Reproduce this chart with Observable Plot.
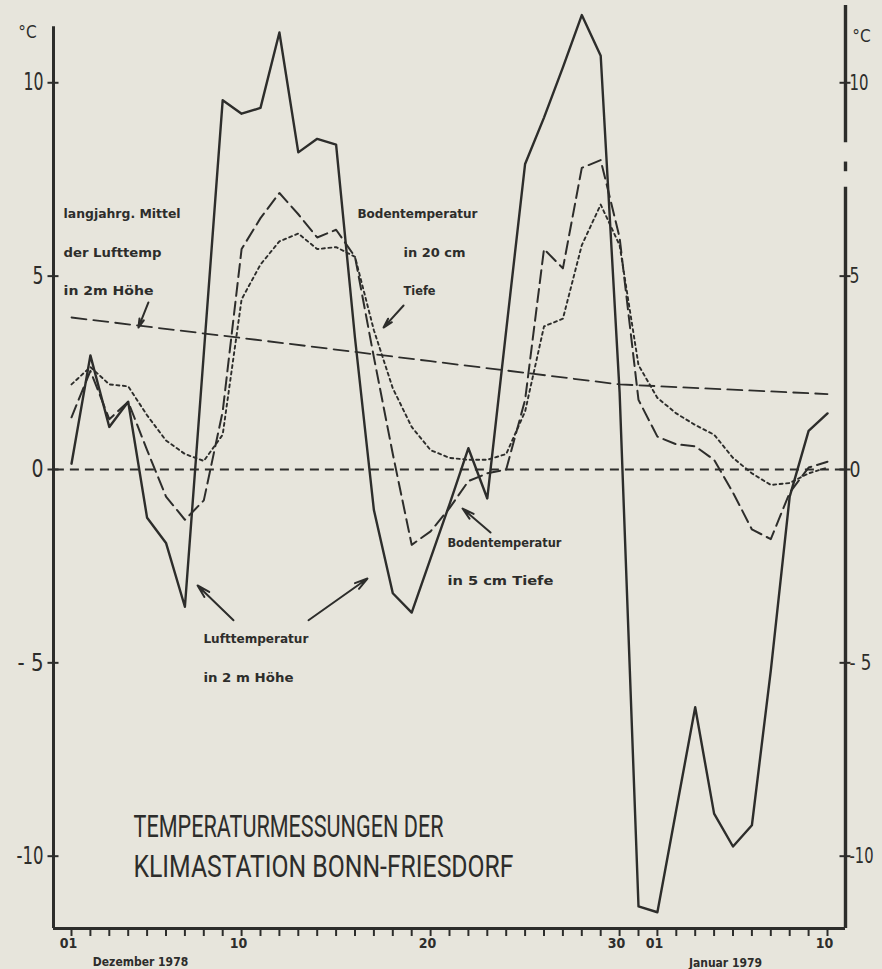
<!DOCTYPE html>
<html><head><meta charset="utf-8">
<script src="https://cdn.jsdelivr.net/npm/d3@7"></script>
<script src="https://cdn.jsdelivr.net/npm/@observablehq/plot@0.6"></script>
<style>
html,body{margin:0;padding:0;background:#e7e5dc;}
#chart svg{display:block;}
</style></head><body><div id="chart"></div>
<script>
// Day index: 1 = 01 Dec 1978 ... 31 = 31 Dec 1978, 32 = 01 Jan 1979 ... 41 = 10 Jan 1979
const days = d3.range(1, 42);

// Lufttemperatur in 2 m Höhe (°C)
const airTemp = [
  0.15, 2.95, 1.1, 1.75, -1.25, -1.9, -3.55, 3.0, 9.55, 9.2,
  9.35, 11.3, 8.2, 8.55, 8.4, 3.4, -1.05, -3.2, -3.7, -2.3,
  -0.9, 0.55, -0.75, 3.6, 7.9, 9.1, 10.4, 11.75, 10.7, 2.0,
  -11.3, -11.45, -8.8, -6.15, -8.9, -9.75, -9.2, -5.2, -0.7, 1.0, 1.45
];
// Bodentemperatur in 5 cm Tiefe (°C)
const soil5cm = [
  1.35, 2.55, 1.3, 1.75, 0.5, -0.7, -1.3, -0.8, 1.5, 5.7,
  6.5, 7.15, 6.6, 6.0, 6.2, 5.5, 2.9, 0.4, -1.95, -1.6,
  -1.0, -0.3, -0.1, 0.0, 1.8, 5.7, 5.2, 7.8, 8.0, 6.0,
  1.8, 0.85, 0.65, 0.6, 0.25, -0.6, -1.55, -1.8, -0.6, 0.05, 0.2
];
// Bodentemperatur in 20 cm Tiefe (°C)
const soil20cm = [
  2.2, 2.65, 2.2, 2.15, 1.4, 0.75, 0.4, 0.22, 0.9, 4.4,
  5.3, 5.9, 6.1, 5.7, 5.75, 5.5, 3.6, 2.1, 1.1, 0.5,
  0.3, 0.25, 0.25, 0.4, 1.5, 3.7, 3.9, 5.8, 6.85, 5.8,
  2.7, 1.85, 1.45, 1.15, 0.9, 0.3, -0.1, -0.4, -0.35, -0.1, 0.05
];
// langjähriges Mittel der Lufttemperatur in 2 m Höhe (°C)
const meanDays = [1, 10, 20, 30, 41];
const meanTemp = [3.93, 3.4, 2.8, 2.2, 1.95];

// Axis ticks and labels
const xTickDays = [1, 10, 20, 30, 32, 41];
const xTickLabels = ["01", "10", "20", "30", "01", "10"];
const yTicks = [10, 5, 0, -5, -10];
const yTickLabels = ["10", "5", "0", "- 5", "-10"];

// Annotations (data coordinates: day, °C)
const notes = [
  {text: "langjahrg. Mittel", day: 0.58, v: 6.62},
  {text: "der Lufttemp", day: 0.58, v: 5.61},
  {text: "in 2m Höhe", day: 0.58, v: 4.63},
  {text: "Bodentemperatur", day: 16.13, v: 6.62},
  {text: "in 20 cm", day: 18.57, v: 5.61},
  {text: "Tiefe", day: 18.57, v: 4.63},
  {text: "Bodentemperatur ", day: 20.89, v: -1.89},
  {text: "in 5 cm Tiefe", day: 20.89, v: -2.87},
  {text: "Lufttemperatur", day: 7.98, v: -4.37},
  {text: "in 2 m Höhe", day: 7.98, v: -5.38}
];
const noteWidths = {
  "langjahrg. Mittel": 117, "der Lufttemp": 98, "in 2m Höhe": 90,
  "Bodentemperatur": 120, "in 20 cm": 62, "Tiefe": 32,
  "Bodentemperatur ": 118, "in 5 cm Tiefe": 106,
  "Lufttemperatur": 105, "in 2 m Höhe": 90
};
const pointers = [
  {x1: 5.07, y1: 4.32, x2: 4.54, y2: 3.67},
  {x1: 18.57, y1: 4.24, x2: 17.51, y2: 3.67},
  {x1: 23.17, y1: -1.63, x2: 21.69, y2: -1.01},
  {x1: 9.57, y1: -3.9, x2: 7.67, y2: -3.0},
  {x1: 13.54, y1: -3.9, x2: 16.66, y2: -2.82}
];
const titleLines = [
  {text: "TEMPERATURMESSUNGEN DER", day: 4.28, v: -9.23},
  {text: "KLIMASTATION BONN-FRIESDORF", day: 4.28, v: -10.27}
];
const titleWidths = {"TEMPERATURMESSUNGEN DER": 310, "KLIMASTATION BONN-FRIESDORF": 380};
const yLabWidthsLeft = {"10": 20, "5": 11, "0": 12, "- 5": 26, "-10": 27};
const yLabWidthsRight = {"10": 19, "5": 10, "0": 11, "- 5": 22, "-10": 24};

// right-hand axis is drawn in pieces (breaks in the original drawing)
const rightAxisPieces = [[12.0, 8.45], [7.95, 7.7], [7.3, -11.87]];

const INK = "#2d2d2b";
const NARROW = '"Liberation Sans Narrow","DejaVu Sans Condensed","Roboto",sans-serif';
const dayPx = 18.9, degPx = 38.67;
const X0 = 1 - 18 / dayPx, X1 = 41 + 18 / dayPx;
const Y0 = -11.87, Y1 = 12.05;
const tickHalf = 5.5 / dayPx;

const plot = Plot.plot({
  width: 882, height: 969,
  marginLeft: 53, marginRight: 37, marginTop: 3, marginBottom: 41,
  x: {type: "linear", domain: [X0, X1], axis: null},
  y: {type: "linear", domain: [Y0, Y1], axis: null},
  style: {background: "#e7e5dc", color: INK, overflow: "visible"},
  marks: [
    // zero line
    Plot.ruleY([0], {x1: X0 + 0.1, x2: X1, stroke: INK, strokeWidth: 2.2, strokeDasharray: "9,6"}),
    // long-term mean
    Plot.line(meanDays, {x: d => d, y: (d, i) => meanTemp[i], stroke: INK, strokeWidth: 1.8, strokeDasharray: "15,7"}),
    // 20 cm soil
    Plot.line(days, {x: d => d, y: (d, i) => soil20cm[i], stroke: INK, strokeWidth: 1.9, strokeDasharray: "3,3.5"}),
    // 5 cm soil
    Plot.line(days, {x: d => d, y: (d, i) => soil5cm[i], stroke: INK, strokeWidth: 2, strokeDasharray: "13,6"}),
    // air temperature
    Plot.line(days, {x: d => d, y: (d, i) => airTemp[i], stroke: INK, strokeWidth: 2.4}),
    // frame: left, right (broken), bottom
    Plot.ruleX([X0], {y1: Y0, y2: 11.45, stroke: INK, strokeWidth: 3}),
    Plot.ruleX(rightAxisPieces, {x: X1, y1: d => d[0], y2: d => d[1], stroke: INK, strokeWidth: 3.4}),
    Plot.ruleY([Y0], {x1: X0, x2: X1, stroke: INK, strokeWidth: 3}),
    // x ticks (daily)
    Plot.ruleX(days, {x: d => d, y1: Y0, y2: Y0 - 8 / degPx, stroke: INK, strokeWidth: 2}),
    // y ticks both sides
    Plot.ruleY(yTicks, {y: d => d, x1: X0 - tickHalf, x2: X0 + tickHalf, stroke: INK, strokeWidth: 2}),
    Plot.ruleY(yTicks, {y: d => d, x1: X1 - tickHalf, x2: X1 + tickHalf, stroke: INK, strokeWidth: 2}),
    // y labels
    Plot.text(yTicks, {x: X0, y: d => d, text: (d, i) => yTickLabels[i], textAnchor: "end", dx: -10,
      fontSize: 24, fontFamily: NARROW, fill: INK}),
    Plot.text(yTicks, {x: X1, y: d => d, text: (d, i) => yTickLabels[i], textAnchor: "start", dx: 4,
      fontSize: 22, fontFamily: NARROW, fill: INK}),
    Plot.text(["°C"], {x: X0, y: 11.3, text: d => d, dx: -26, fontSize: 17, fontFamily: NARROW, fill: INK}),
    Plot.text(["°C"], {x: X1, y: 11.2, text: d => d, dx: 16, fontSize: 17, fontFamily: NARROW, fill: INK}),
    // x labels
    Plot.text(xTickDays, {x: d => d, y: Y0, text: (d, i) => xTickLabels[i], dy: 15, dx: -3, fontSize: 14,
      fontWeight: "bold", fontFamily: NARROW, fill: INK}),
    Plot.text(["Dezember 1978"], {x: 4.65, y: Y0, text: d => d, dy: 34, fontSize: 12, fontWeight: "bold", fontFamily: NARROW, fill: INK}),
    Plot.text(["Januar 1979"], {x: 35.6, y: Y0, text: d => d, dy: 35, fontSize: 12, fontWeight: "bold", fontFamily: NARROW, fill: INK}),
    // annotations
    Plot.text(notes, {x: "day", y: "v", text: "text", textAnchor: "start", fontSize: 13, fontWeight: "bold",
      fontFamily: NARROW, fill: INK}),
    Plot.arrow(pointers, {x1: "x1", y1: "y1", x2: "x2", y2: "y2", stroke: INK, strokeWidth: 2,
      headLength: 10, headAngle: 30}),
    // title
    Plot.text(titleLines, {x: "day", y: "v", text: "text", textAnchor: "start", fontSize: 32, fontWeight: 400,
      fontFamily: "Roboto, 'DejaVu Sans', sans-serif", fill: INK})
  ]
});

document.getElementById("chart").appendChild(plot);

// fit the widths of lettered labels to those of the original drawing
plot.querySelectorAll("text").forEach(t => {
  const txt = t.textContent;
  const g = t.closest("g");
  const fs = g ? g.getAttribute("font-size") : null;
  let w = noteWidths[txt] || titleWidths[txt];
  if (!w && fs === "24") w = yLabWidthsLeft[txt];
  if (!w && fs === "22") w = yLabWidthsRight[txt];
  if (w) { t.setAttribute("textLength", w); t.setAttribute("lengthAdjust", "spacingAndGlyphs"); }
});
</script>
</body></html>
